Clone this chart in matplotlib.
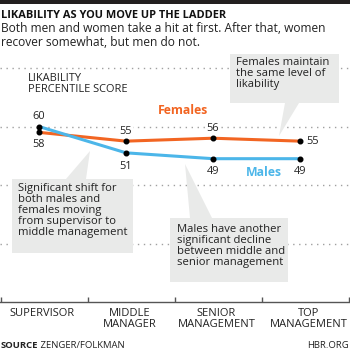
import matplotlib.pyplot as plt
from matplotlib.patches import Polygon

plt.rcParams["font.family"] = ["Open Sans", "DejaVu Sans"]

levels = ["SUPERVISOR", "MIDDLE\nMANAGER", "SENIOR\nMANAGEMENT", "TOP\nMANAGEMENT"]
females = [58, 55, 56, 55]
males = [60, 51, 49, 49]
gridlines = [20, 40, 60, 80]

ORANGE = "#f26522"
BLUE = "#4cb6e9"
BOX = "#e9eae9"
INK = "#222222"

W, H = 350, 354


def fp(x, y):
    """Pixel position (top-left origin) to figure fraction."""
    return x / W, 1 - y / H


fig = plt.figure(figsize=(W / 100, H / 100), dpi=100)

# axes: value 0 at y=302px, 85 at ~53px; index 0 at x=39px, 87px per step
ax = fig.add_axes([0, (H - 302) / H, 1, (302 - 53.4) / H])
ax.set_xlim(-39 / 87, (W - 39) / 87)
ax.set_ylim(0, 85)
ax.patch.set_alpha(0)

for spine in ["top", "left", "right"]:
    ax.spines[spine].set_visible(False)
ax.spines["bottom"].set_color("#555555")
ax.spines["bottom"].set_linewidth(1)

ax.set_yticks(gridlines)
ax.tick_params(axis="y", length=0, labelleft=False)
ax.grid(axis="y", color="#a0a0a0", linestyle=(0, (1, 3.3)), linewidth=1)
ax.set_axisbelow(True)

xs = list(range(len(levels)))
ax.set_xticks([i - 0.44 for i in range(len(levels) + 1)])
ax.set_xticklabels([])
ax.tick_params(axis="x", direction="in", length=3.6, width=1, color="#555555")
for i, lab in enumerate(levels):
    ax.text(i + 0.04 + (0.06 if i == 3 else 0), -2.2, lab, ha="center", va="top",
            fontsize=8.0, color=INK, linespacing=0.92)

ax.plot(xs, females, color=ORANGE, lw=2.2, zorder=3, solid_capstyle="round")
ax.plot(xs, males, color=BLUE, lw=2.2, zorder=4, solid_capstyle="round")
ax.scatter(xs, females, s=11, color="black", zorder=5)
ax.scatter(xs, males, s=11, color="black", zorder=5)

lab_kw = dict(fontsize=7.9, color=INK, ha="center",
              bbox=dict(boxstyle="square,pad=0.1", fc="white", ec="none"))
for i, (f, m) in enumerate(zip(females, males)):
    if i == len(xs) - 1:
        ax.text(i + 0.07, f, str(f), va="center", **{**lab_kw, "ha": "left"})
        ax.text(i, m - 4.5, str(m), va="center", **lab_kw)
    elif f > m:
        ax.text(i, f + 3.2, str(f), va="center", **lab_kw)
        ax.text(i, m - 4.5, str(m), va="center", **lab_kw)
    else:
        ax.text(i, m + 3.4, str(m), va="center", **lab_kw)
        ax.text(i, f - 4.0, str(f), va="center", **lab_kw)

ax.text(*fp(183, 110), "Females", transform=fig.transFigure, ha="center", va="center",
        fontsize=8.8, fontweight="bold", color=ORANGE)
ax.text(*fp(264, 173), "Males", transform=fig.transFigure, ha="center", va="center",
        fontsize=8.8, fontweight="bold", color=BLUE)

fig.text(*fp(28, 84), "LIKABILITY\nPERCENTILE SCORE", ha="left", va="center",
         fontsize=7.9, color=INK, linespacing=0.95)

# annotation boxes with pointers (pixel layout)
notes = [
    ((230, 54, 339, 103), [(285, 103), (299, 103), (279, 136)],
     "Females maintain\nthe same level of\nlikability", (236, 57)),
    ((12, 179, 133, 253), [(66, 179), (86, 179), (90, 151)],
     "Significant shift for\nboth males and\nfemales moving\nfrom supervisor to\nmiddle management", (18, 183)),
    ((170, 218, 288, 282), [(190, 218), (212, 218), (185, 164)],
     "Males have another\nsignificant decline\nbetween middle and\nsenior management", (177, 224)),
]
for (x0, y0, x1, y1), tri, text, (tx, ty) in notes:
    rect = Polygon([fp(x0, y0), fp(x1, y0), fp(x1, y1), fp(x0, y1)], closed=True,
                   transform=fig.transFigure, fc=BOX, ec="none", zorder=6)
    ax.add_artist(rect)
    ax.add_artist(Polygon([fp(*p) for p in tri], closed=True, transform=fig.transFigure,
                          fc=BOX, ec="none", zorder=6))
    ax.text(*fp(tx, ty), text, transform=fig.transFigure, ha="left", va="top",
            fontsize=8.1, color=INK, linespacing=1.0, zorder=7)

# header
fig.patches.append(Polygon([fp(0, 0), fp(W, 0), fp(W, 4), fp(0, 4)], closed=True,
                           transform=fig.transFigure, fc="#231f20", ec="none"))
fig.text(*fp(1, 15), "LIKABILITY AS YOU MOVE UP THE LADDER", ha="left", va="center",
         fontsize=7.9, fontweight="bold", color="#111111")
fig.text(*fp(1, 35.5), "Both men and women take a hit at first. After that, women\n"
         "recover somewhat, but men do not.", ha="left", va="center",
         fontsize=8.65, color=INK, linespacing=1.0)

# footer
src = fig.text(*fp(1, 346), "SOURCE", ha="left", va="center", fontsize=6.8,
               fontweight="bold", color=INK)
ax.annotate(" ZENGER/FOLKMAN", xy=(1, 0.5), xycoords=src, ha="left", va="center",
            fontsize=6.8, color=INK, annotation_clip=False)
fig.text(*fp(349, 346), "HBR.ORG", ha="right", va="center", fontsize=6.8, color=INK)

fig.savefig("out.png", dpi=100)
